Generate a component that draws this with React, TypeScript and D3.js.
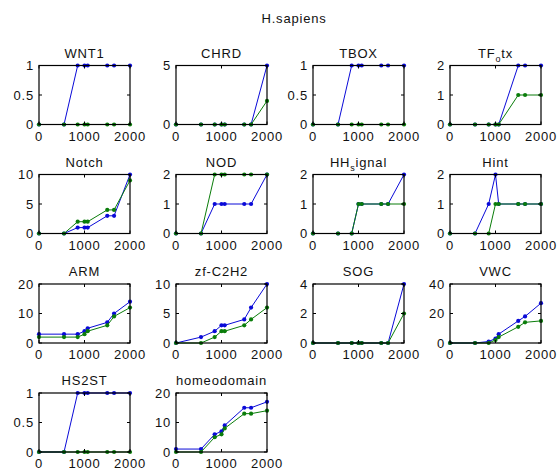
import React from "react";
import * as d3 from "d3";

const mainTitle = "H.sapiens";
const xValues = [0, 550, 850, 1000, 1070, 1500, 1650, 2000];
const xTickValues = [0, 1000, 2000];

// title: [main part, subscript, rest]
const panelTitles: [string, string, string][] = [
  ["WNT1", "", ""],
  ["CHRD", "", ""],
  ["TBOX", "", ""],
  ["TF", "o", "tx"],
  ["Notch", "", ""],
  ["NOD", "", ""],
  ["HH", "s", "ignal"],
  ["Hint", "", ""],
  ["ARM", "", ""],
  ["zf-C2H2", "", ""],
  ["SOG", "", ""],
  ["VWC", "", ""],
  ["HS2ST", "", ""],
  ["homeodomain", "", ""],
];

const yMaxes = [1, 5, 1, 2, 10, 2, 2, 2, 20, 10, 4, 40, 1, 20];
const yTickValues = [
  [0, 0.5, 1],
  [0, 5],
  [0, 0.5, 1],
  [0, 1, 2],
  [0, 5, 10],
  [0, 1, 2],
  [0, 1, 2],
  [0, 1, 2],
  [0, 10, 20],
  [0, 5, 10],
  [0, 2, 4],
  [0, 20, 40],
  [0, 0.5, 1],
  [0, 10, 20],
];

const blueValues = [
  [0, 0, 1, 1, 1, 1, 1, 1],
  [0, 0, 0, 0, 0, 0, 0, 5],
  [0, 0, 1, 1, 1, 1, 1, 1],
  [0, 0, 0, 0, 0, 2, 2, 2],
  [0, 0, 1, 1, 1, 3, 3, 10],
  [0, 0, 1, 1, 1, 1, 1, 2],
  [0, 0, 0, 1, 1, 1, 1, 2],
  [0, 0, 1, 2, 1, 1, 1, 1],
  [3, 3, 3, 4, 5, 7, 10, 14],
  [0, 1, 2, 3, 3, 4, 6, 10],
  [0, 0, 0, 0, 0, 0, 0, 4],
  [0, 0, 1, 3, 6, 15, 18, 27],
  [0, 0, 1, 1, 1, 1, 1, 1],
  [1, 1, 6, 7, 9, 15, 15, 17],
];

const greenValues = [
  [0, 0, 0, 0, 0, 0, 0, 0],
  [0, 0, 0, 0, 0, 0, 0, 2],
  [0, 0, 0, 0, 0, 0, 0, 0],
  [0, 0, 0, 0, 0, 1, 1, 1],
  [0, 0, 2, 2, 2, 4, 4, 9],
  [0, 0, 2, 2, 2, 2, 2, 2],
  [0, 0, 0, 1, 1, 1, 1, 1],
  [0, 0, 0, 1, 1, 1, 1, 1],
  [2, 2, 2, 3, 4, 6, 9, 12],
  [0, 0, 1, 2, 2, 3, 4, 6],
  [0, 0, 0, 0, 0, 0, 0, 2],
  [0, 0, 0, 2, 4, 11, 14, 15],
  [0, 0, 0, 0, 0, 0, 0, 0],
  [0, 0, 5, 6, 8, 13, 13, 14],
];

const W = 560;
const H = 472;
const colLefts = [39, 176, 313, 450];
const rowTops = [65.5, 174.5, 284, 393];
const axW = 91;
const axH = 59;
const BLUE = "#0a0ad8";
const GREEN = "#0a7d0a";
const FONT = "'Liberation Sans', Arial, sans-serif";
const FS = 13;
const LS = 0.8;

function Panel({ idx }: { idx: number }) {
  const col = idx % 4;
  const row = Math.floor(idx / 4);
  const left = colLefts[col];
  const top = rowTops[row];
  const x = d3.scaleLinear().domain([0, 2000]).range([left, left + axW]);
  const y = d3.scaleLinear().domain([0, yMaxes[idx]]).range([top + axH, top]);
  const line = d3
    .line<number>()
    .x((_, i) => x(xValues[i]))
    .y((d) => y(d));
  const fmt = (v: number) => (Number.isInteger(v) ? String(v) : String(v));
  const [t1, tSub, t2] = panelTitles[idx];
  const tick = 3;
  return (
    <g>
      <rect x={left} y={top} width={axW} height={axH} fill="white" />
      {/* title */}
      <text
        x={left + axW / 2}
        y={top - 8}
        textAnchor="middle"
        fontFamily={FONT}
        fontSize={FS}
        letterSpacing={LS}
        fill="#111"
      >
        {t1}
        {tSub ? (
          <>
            <tspan fontSize={9} dy={4}>
              {tSub}
            </tspan>
            <tspan dy={-4}>{t2}</tspan>
          </>
        ) : null}
      </text>
      {/* series */}
      {[blueValues[idx], greenValues[idx]].map((vals, si) => {
        const c = si === 0 ? BLUE : GREEN;
        return (
          <g key={si}>
            <path d={line(vals) || ""} fill="none" stroke={c} strokeWidth={1} />
            {vals.map((v, i) => (
              <circle key={i} cx={x(xValues[i])} cy={y(v)} r={2.1} fill={c} />
            ))}
          </g>
        );
      })}
      {/* ticks */}
      {yTickValues[idx].map((t) => (
        <g key={"y" + t}>
          <line x1={left} x2={left + tick} y1={y(t)} y2={y(t)} stroke="#000" />
          <line x1={left + axW} x2={left + axW - tick} y1={y(t)} y2={y(t)} stroke="#000" />
          <text
            x={left - 5}
            y={y(t)}
            dy="0.36em"
            textAnchor="end"
            fontFamily={FONT}
            fontSize={FS}
            letterSpacing={LS}
            fill="#111"
          >
            {fmt(t)}
          </text>
        </g>
      ))}
      {xTickValues.map((t) => (
        <g key={"x" + t}>
          <line x1={x(t)} x2={x(t)} y1={top + axH} y2={top + axH - tick} stroke="#000" />
          <line x1={x(t)} x2={x(t)} y1={top} y2={top + tick} stroke="#000" />
          <text
            x={x(t)}
            y={top + axH + 16}
            textAnchor="middle"
            fontFamily={FONT}
            fontSize={FS}
            letterSpacing={LS}
            fill="#111"
          >
            {t}
          </text>
        </g>
      ))}
      <rect x={left} y={top} width={axW} height={axH} fill="none" stroke="#000" strokeWidth={1.2} />
    </g>
  );
}

export default function App() {
  return (
    <svg
      width={W}
      height={H}
      style={{ position: "absolute", left: 0, top: 0, background: "white" }}
    >
      <rect width={W} height={H} fill="white" />
      <text
        x={294}
        y={23}
        textAnchor="middle"
        fontFamily={FONT}
        fontSize={FS}
        letterSpacing={LS}
        fill="#111"
      >
        {mainTitle}
      </text>
      {panelTitles.map((_, i) => (
        <Panel key={i} idx={i} />
      ))}
    </svg>
  );
}
